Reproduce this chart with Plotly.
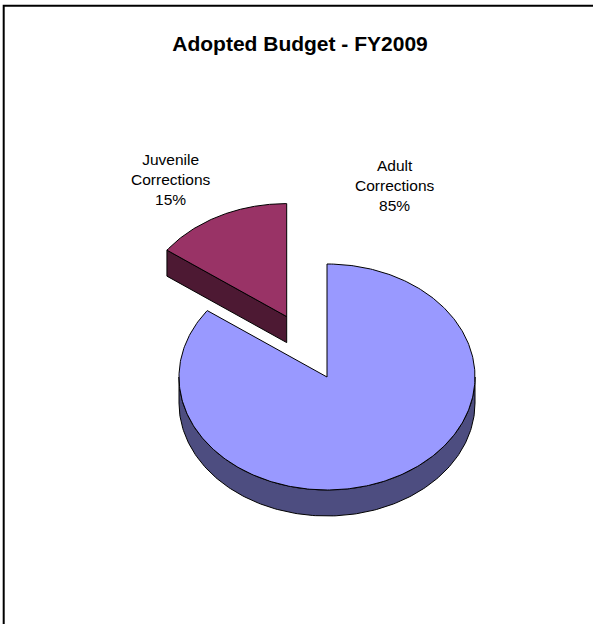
import numpy as np
import plotly.graph_objects as go

# Budget shares (percent)
categories = ["Adult Corrections", "Juvenile Corrections"]
values = [85, 15]
top_colors = ["#9999FF", "#993366"]
side_colors = ["#4D4D80", "#4D1933"]
explode = [0.0, 0.6]

W, H = 593, 624
FONT = "Arial, Liberation Sans, sans-serif"

# 3-D pie geometry in pixel space (y grows downward)
CX, CY = 327.0, 377.0
RX, RY = 148.0, 113.0
DEPTH = 26.0
START = 90.0  # first slice starts at 12 o'clock and runs counter-clockwise


def pt(theta_deg, ox, oy, dz=0.0):
    t = np.radians(theta_deg)
    return ox + RX * np.cos(t), oy - RY * np.sin(t) + dz


def arc(a0, a1, ox, oy, dz=0.0, n=180):
    t = np.radians(np.linspace(a0, a1, n))
    return ox + RX * np.cos(t), oy - RY * np.sin(t) + dz


total = float(sum(values))
spans = [v / total * 360.0 for v in values]

# Adult slice runs from START+juvenile span round to START+360; juvenile from START to START+span
juv_a0, juv_a1 = START, START + spans[1]
adu_a0, adu_a1 = juv_a1, START + 360.0

slices = [
    (categories[0], adu_a0, adu_a1, top_colors[0], side_colors[0], explode[0]),
    (categories[1], juv_a0, juv_a1, top_colors[1], side_colors[1], explode[1]),
]

fig = go.Figure()
line_style = dict(color="black", width=1)

for name, a0, a1, ctop, cside, ex in slices:
    mid = np.radians((a0 + a1) / 2.0)
    ox = CX + ex * RX * np.cos(mid)
    oy = CY - ex * RY * np.sin(mid)

    # visible outer wall: the front half of the rim (180..360 deg) clipped to the slice
    lo, hi = max(a0, 180.0), min(a1, 360.0)
    if hi > lo:
        tx, ty = arc(lo, hi, ox, oy)
        bx, by = arc(hi, lo, ox, oy, DEPTH)
        fig.add_trace(go.Scatter(
            x=np.concatenate([tx, bx, tx[:1]]), y=np.concatenate([ty, by, ty[:1]]),
            mode="lines", fill="toself", fillcolor=cside, line=line_style,
            hoverinfo="skip", showlegend=False))

    # visible cut face on the trailing edge when it faces the viewer
    if 90.0 < a1 % 360.0 < 270.0 and ex > 0:
        ex_, ey_ = pt(a1, ox, oy)
        fig.add_trace(go.Scatter(
            x=[ox, ex_, ex_, ox, ox], y=[oy, ey_, ey_ + DEPTH, oy + DEPTH, oy],
            mode="lines", fill="toself", fillcolor=cside, line=line_style,
            hoverinfo="skip", showlegend=False))

    # top face
    tx, ty = arc(a0, a1, ox, oy, n=360)
    fig.add_trace(go.Scatter(
        x=np.concatenate([[ox], tx, [ox]]), y=np.concatenate([[oy], ty, [oy]]),
        mode="lines", fill="toself", fillcolor=ctop, line=line_style,
        hoverinfo="skip", showlegend=False))

# category labels with percentages
label_pos = {categories[0]: (394.5, 185.0), categories[1]: (170.0, 179.5)}
for name, v in zip(categories, values):
    x, y = label_pos[name]
    fig.add_annotation(
        x=x, y=y, xref="x", yref="y", showarrow=False,
        text=f"{name.replace(' ', '<br>')}<br>{round(v / total * 100)}%",
        font=dict(family=FONT, size=15.5, color="black"),
        align="center", xanchor="center", yanchor="middle")

# chart frame
fig.add_shape(type="rect", xref="x", yref="y", x0=3.7, y0=5.7, x1=W + 20, y1=H + 20,
              line=dict(color="black", width=2), fillcolor="rgba(0,0,0,0)", layer="above")

fig.update_layout(
    width=W, height=H,
    margin=dict(l=0, r=0, t=0, b=0),
    paper_bgcolor="white", plot_bgcolor="white",
    title=dict(text="<b>Adopted Budget - FY2009</b>", x=300 / W, y=1 - 43.5 / H,
               xanchor="center", yanchor="middle",
               font=dict(family=FONT, size=21, color="black")),
    xaxis=dict(range=[0, W], visible=False, fixedrange=True),
    yaxis=dict(range=[H, 0], visible=False, fixedrange=True),
    showlegend=False,
)

fig.write_html("out.html")
